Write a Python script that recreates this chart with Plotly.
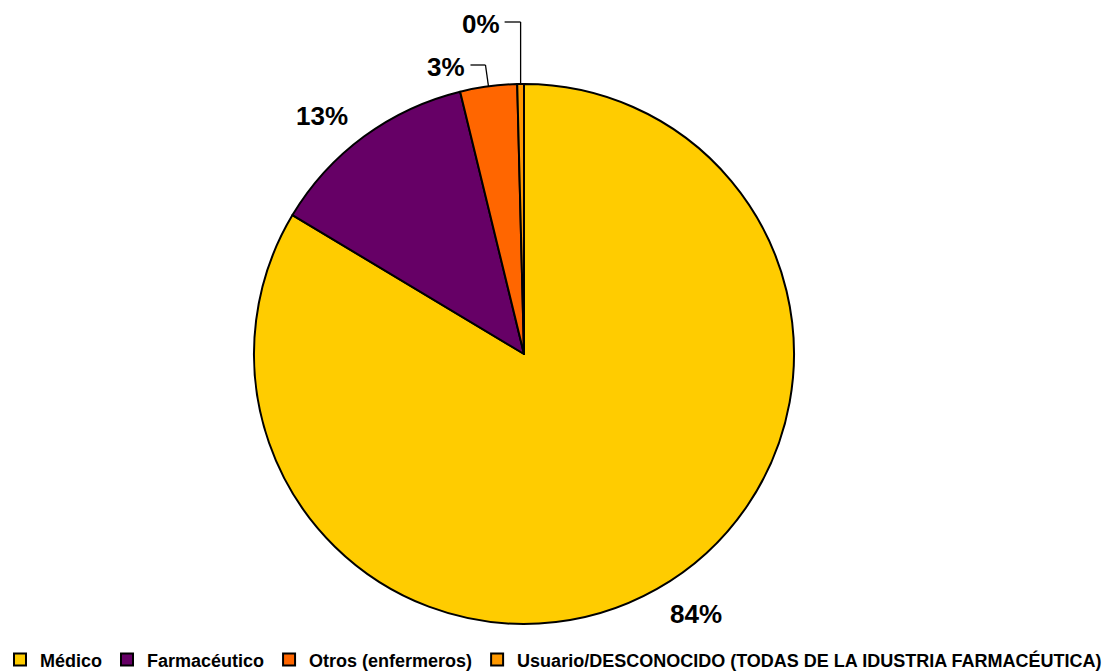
import math
import plotly.graph_objects as go

# Distribution of reports by notifier type
categories = ["Médico", "Farmacéutico", "Otros (enfermeros)",
              "Usuario/DESCONOCIDO (TODAS DE LA IDUSTRIA FARMACÉUTICA)"]
values = [83.6, 12.6, 3.4, 0.4]
colors = ["#FFCC00", "#660066", "#FF6600", "#FF9900"]

W, H = 1120, 671
CX, CY, R = 524, 354, 270          # pie centre and radius in pixels
LABEL_R = 312                      # radius of the outside percentage labels
LABEL_TURN = -4.0                  # angular nudge of the outside labels (deg)
FONT = "Liberation Sans, Arial, sans-serif"


def px(x):
    return x / W


def py(y):
    return 1 - y / H


total = sum(values)
shares = [v / total for v in values]
mids = []
acc = 0.0
for s in shares:
    mids.append(acc + s / 2)
    acc += s


def rim_point(frac, radius, turn_deg=0.0):
    th = 2 * math.pi * frac + math.radians(turn_deg)
    return CX + radius * math.sin(th), CY - radius * math.cos(th)


fig = go.Figure(go.Pie(
    labels=categories,
    values=values,
    sort=False,
    direction="clockwise",
    rotation=0,
    marker=dict(colors=colors, line=dict(color="#000000", width=2)),
    textinfo="none",
    hoverinfo="label+percent",
    domain=dict(x=[px(CX - R), px(CX + R)], y=[py(CY + R), py(CY - R)]),
))

annotations = []
shapes = []
label_font = dict(family=FONT, size=26, color="#000000", weight="bold")

# Large slices: labels just outside the rim
for i in (0, 1):
    lx, ly = rim_point(mids[i], LABEL_R, LABEL_TURN)
    annotations.append(dict(
        x=px(lx), y=py(ly), xref="paper", yref="paper",
        text=f"{round(shares[i] * 100)}%", showarrow=False,
        font=label_font, xanchor="center", yanchor="middle"))

# Small slices: labels lifted above the pie with elbow leader lines
for i, elbow_y, stub, lean in ((2, 65, 15, 3), (3, 22, 16, 0)):
    ax, ay = rim_point(mids[i], R)
    ex = ax - lean
    shapes.append(dict(type="line", xref="paper", yref="paper",
                       x0=px(ax), y0=py(ay), x1=px(ex), y1=py(elbow_y),
                       line=dict(color="#000000", width=1.3)))
    shapes.append(dict(type="line", xref="paper", yref="paper",
                       x0=px(ex), y0=py(elbow_y), x1=px(ex - stub), y1=py(elbow_y),
                       line=dict(color="#000000", width=1.3)))
    annotations.append(dict(
        x=px(ex - stub - 3), y=py(elbow_y + 2), xref="paper", yref="paper",
        text=f"{round(shares[i] * 100)}%", showarrow=False,
        font=label_font, xanchor="right", yanchor="middle"))

fig.update_layout(
    width=W, height=H,
    margin=dict(l=0, r=0, t=0, b=0, autoexpand=False),
    paper_bgcolor="#FFFFFF",
    plot_bgcolor="#FFFFFF",
    annotations=annotations,
    shapes=shapes,
    showlegend=True,
    legend=dict(
        orientation="h", x=0, y=-0.011, xanchor="left", yanchor="bottom",
        font=dict(family=FONT, size=18, color="#000000", weight="bold"),
        itemwidth=30, tracegroupgap=0,
        bgcolor="rgba(0,0,0,0)",
    ),
)

fig.write_html("out.html")
